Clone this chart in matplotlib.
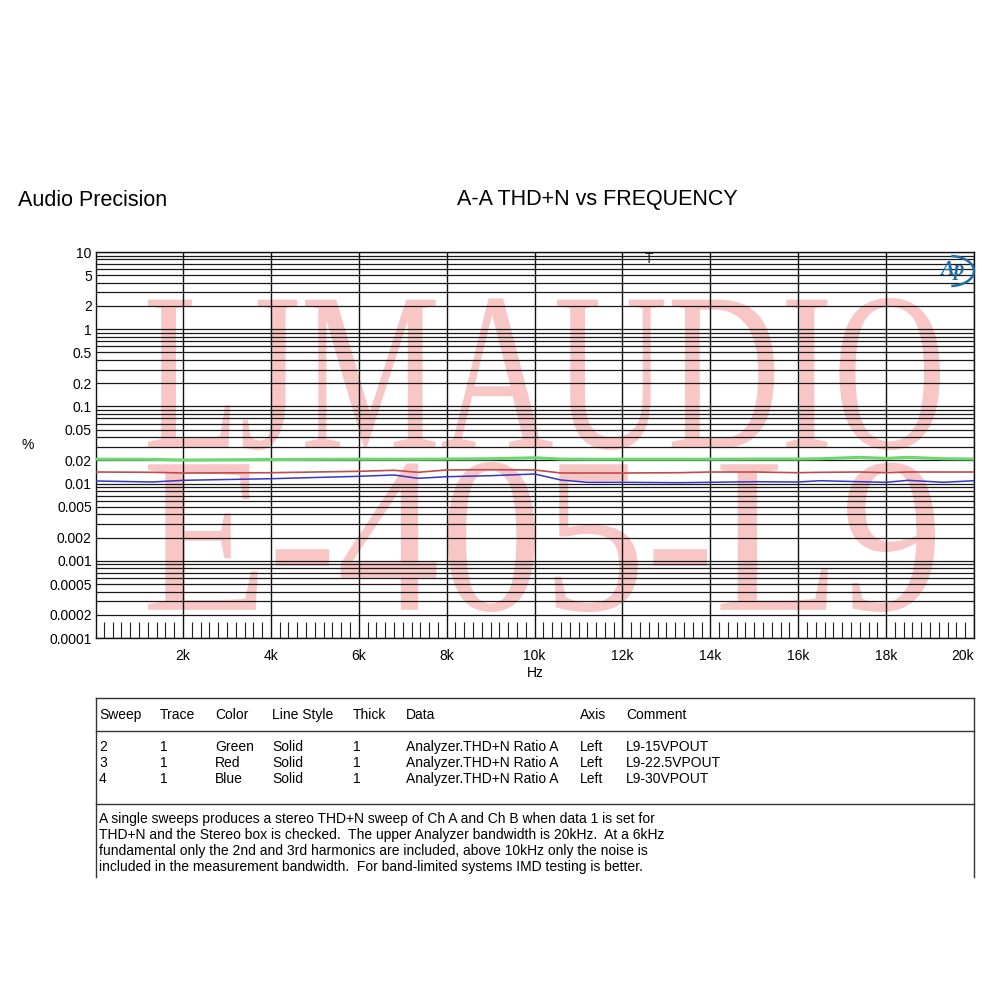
import matplotlib
matplotlib.use('Agg')
import matplotlib.pyplot as plt
from matplotlib.ticker import FixedLocator, LogLocator, NullFormatter
from matplotlib.textpath import TextPath
from matplotlib.font_manager import FontProperties
from matplotlib.patches import PathPatch, Arc
from matplotlib.transforms import Affine2D
from matplotlib.lines import Line2D

plt.rcParams['font.family'] = ['Liberation Sans', 'DejaVu Sans']

# datos (Hz, %)
freq = [20, 1300, 2000, 4000, 6000, 6800, 7350, 8000, 9000, 10000, 10600, 11200,
        12000, 13300, 14000, 15000, 16000, 16500, 17400, 18000, 18500, 19300, 20000]
thd_15v = [0.0207, 0.0206, 0.0202, 0.0205, 0.0207, 0.0207, 0.0207, 0.0208, 0.0210, 0.0216,
           0.0208, 0.0207, 0.0207, 0.0207, 0.0207, 0.0208, 0.0208, 0.0210, 0.0219, 0.0212,
           0.0219, 0.0210, 0.0208]
thd_22v = [0.01413, 0.01401, 0.01372, 0.01384, 0.01443, 0.01487, 0.01401, 0.01501, 0.01514,
           0.01501, 0.01372, 0.01372, 0.01372, 0.01384, 0.01413, 0.01413, 0.01384, 0.01400,
           0.01413, 0.01384, 0.01413, 0.01413, 0.01413]
thd_30v = [0.01081, 0.01049, 0.01103, 0.01157, 0.01243, 0.01292, 0.01171, 0.01228, 0.01266,
           0.01331, 0.01113, 0.01039, 0.01039, 0.01027, 0.01039, 0.01058, 0.01049, 0.01090,
           0.01058, 0.01039, 0.01103, 0.01039, 0.01090]

y_ticks = [0.0001, 0.0002, 0.0005, 0.001, 0.002, 0.005, 0.01, 0.02, 0.05, 0.1, 0.2, 0.5, 1, 2, 5, 10]
y_labels = ['0.0001', '0.0002', '0.0005', '0.001', '0.002', '0.005', '0.01', '0.02', '0.05',
            '0.1', '0.2', '0.5', '1', '2', '5', '10']
x_ticks = [2000, 4000, 6000, 8000, 10000, 12000, 14000, 16000, 18000, 20000]
x_labels = ['2k', '4k', '6k', '8k', '10k', '12k', '14k', '16k', '18k', '20k']

# tabela de legendas
sweeps = ['2', '3', '4']
traces = ['1', '1', '1']
cores = ['Green', 'Red', 'Blue']
estilos = ['Solid', 'Solid', 'Solid']
grossura = ['1', '1', '1']
dados = ['Analyzer.THD+N Ratio A'] * 3
eixos = ['Left', 'Left', 'Left']
comentarios = ['L9-15VPOUT', 'L9-22.5VPOUT', 'L9-30VPOUT']
nota = ['A single sweeps produces a stereo THD+N sweep of Ch A and Ch B when data 1 is set for',
        'THD+N and the Stereo box is checked.  The upper Analyzer bandwidth is 20kHz.  At a 6kHz',
        'fundamental only the 2nd and 3rd harmonics are included, above 10kHz only the noise is',
        'included in the measurement bandwidth.  For band-limited systems IMD testing is better.']

W, H = 1000, 1000
fig = plt.figure(figsize=(10, 10), dpi=100)


def fx(x):
    return x / W


def fy(y):
    return 1 - y / H


def ftext(x, y, s, **kw):
    kw.setdefault('va', 'center')
    kw.setdefault('fontsize', 10)
    fig.text(fx(x), fy(y), s, **kw)


# marca d'agua
def marca(texto, x0, y0, x1, y1):
    tp = TextPath((0, 0), texto, size=100, prop=FontProperties(family='Liberation Serif'))
    ext = tp.get_extents()
    tr = (Affine2D().translate(-ext.x0, -ext.y0)
          .scale((x1 - x0) / W / ext.width, (y1 - y0) / H / ext.height)
          .translate(fx(x0), fy(y1)) + fig.transFigure)
    fig.add_artist(PathPatch(tp, transform=tr, facecolor='#f9c6c6', edgecolor='none', zorder=-1))


marca('LJMAUDIO', 148, 298, 940, 450)
marca('E-405-L9', 148, 462, 935, 612)

ax = fig.add_axes([fx(96), fy(638), (974 - 96) / W, (638 - 252) / H])
ax.set_facecolor('none')
ax.set_yscale('log')
ax.set_xlim(20, 20000)
ax.set_ylim(0.0001, 10)

ax.plot(freq, thd_15v, color='#6ad86a', lw=2.2, zorder=3)
ax.plot(freq, thd_22v, color='#bf4c4c', lw=1.2, zorder=3)
ax.plot(freq, thd_30v, color='#3535c8', lw=1.1, zorder=3)

ax.yaxis.set_major_locator(FixedLocator(y_ticks))
ax.set_yticklabels(y_labels)
ax.yaxis.set_minor_locator(LogLocator(base=10, subs=range(1, 10), numticks=100))
ax.yaxis.set_minor_formatter(NullFormatter())
ax.tick_params(axis='y', which='both', length=0, pad=3, labelsize=10)

ax.xaxis.set_major_locator(FixedLocator(x_ticks))
ax.set_xticklabels(x_labels)
ax.xaxis.set_minor_locator(FixedLocator(list(range(200, 20000, 200))))
ax.tick_params(axis='x', which='major', length=0, pad=8, labelsize=10)
ax.tick_params(axis='x', which='minor', direction='in', length=11.5, width=0.8, color='#222222')
ax.get_xticklabels()[-1].set_horizontalalignment('right')

ax.grid(True, which='major', axis='x', color='#111111', lw=1.0)
ax.grid(True, which='both', axis='y', color='#1a1a1a', lw=0.9)
for s in ax.spines.values():
    s.set_color('#111111')
    s.set_linewidth(1.0)

# cursor e logo
ax.text(12600, 10, 'T', fontsize=10, ha='center', va='top', color='#222222')
ftext(952, 270, 'Ap', fontsize=15, color='#1f6ea6', style='italic', weight='bold',
      ha='center', family='Liberation Serif')
fig.add_artist(Arc((fx(950), fy(271)), 48 / W, 30 / H, theta1=-85, theta2=85,
                   transform=fig.transFigure, color='#1f6ea6', lw=1.8))

# titulos
ftext(18, 200, 'Audio Precision', fontsize=15.5)
ftext(597, 200, 'A-A THD+N vs FREQUENCY', fontsize=15.5, ha='center')
ftext(28, 445, '%', fontsize=10, ha='center')
ftext(535, 673, 'Hz', fontsize=10, ha='center')

# caixa da tabela
for y in [698, 731, 804]:
    fig.add_artist(Line2D([fx(96), fx(974)], [fy(y), fy(y)], transform=fig.transFigure,
                          color='#333333', lw=1.0))
for x in [96, 974]:
    fig.add_artist(Line2D([fx(x), fx(x)], [fy(698), fy(877)], transform=fig.transFigure,
                          color='#333333', lw=1.0))

cols = [99, 160, 215, 272, 353, 406, 580, 626]
cabec = ['Sweep', 'Trace', 'Color', 'Line Style', 'Thick', 'Data', 'Axis', 'Comment']
for x, c in zip(cols, cabec):
    ftext(x, 715, c)

linhas = list(zip(sweeps, traces, cores, estilos, grossura, dados, eixos, comentarios))
for i, linha in enumerate(linhas):
    for x, c in zip(cols, linha):
        ftext(x, 747 + i * 16, c)

for i, l in enumerate(nota):
    ftext(99, 819 + i * 16, l)

fig.savefig('out.png', dpi=100)
